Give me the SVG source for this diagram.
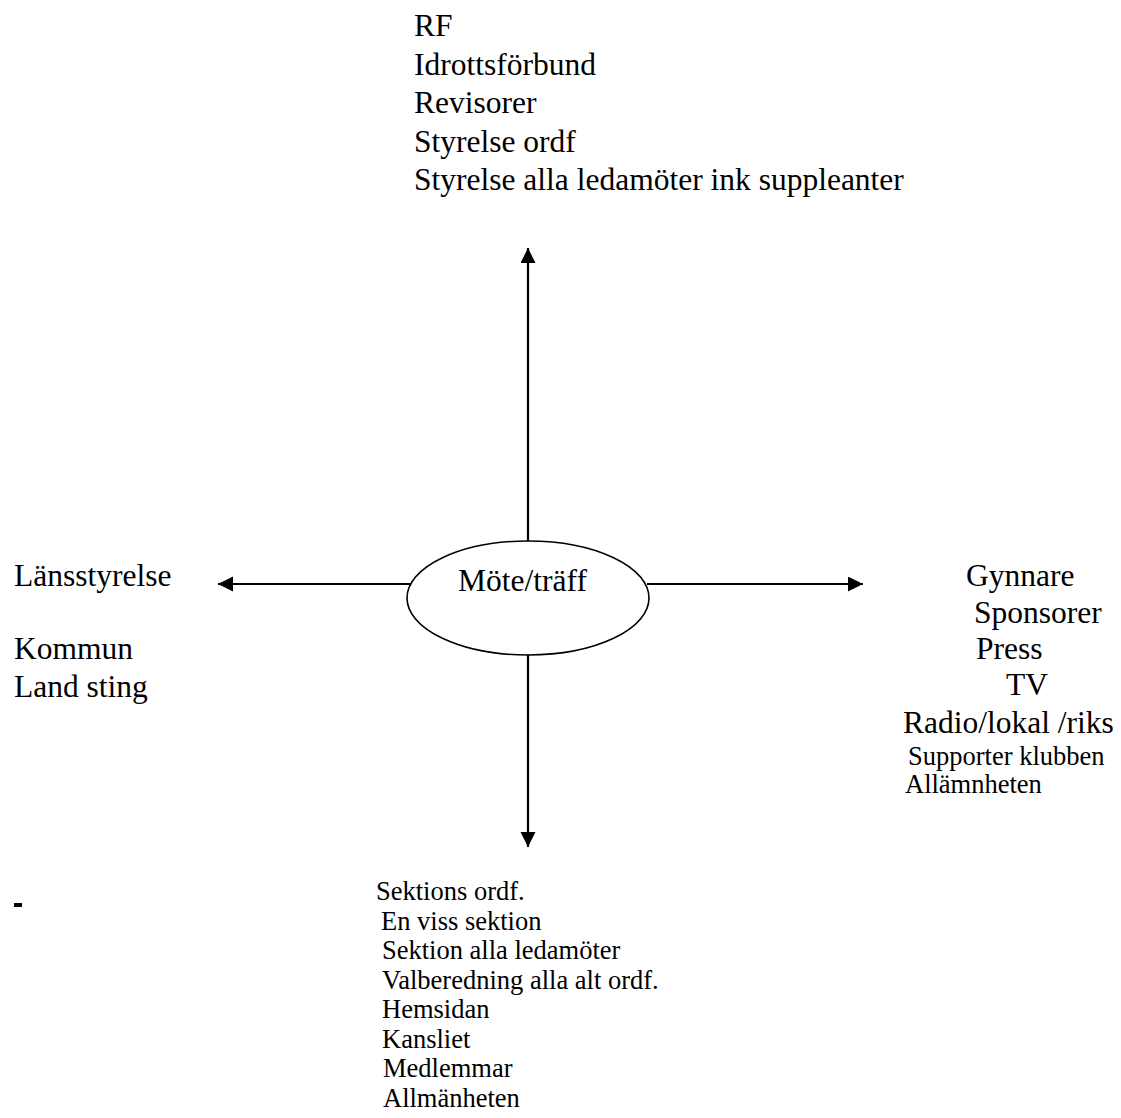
<svg xmlns="http://www.w3.org/2000/svg" width="1121" height="1118" viewBox="0 0 1121 1118">
  <style>
    text { font-family: "Liberation Serif", "Times New Roman", serif; fill: #000; }
    .big { font-size: 31.5px; }
    .small { font-size: 26.5px; }
    .conn { stroke: #000; stroke-width: 2.2; fill: none; marker-end: url(#arrow); }
  </style>
  <defs>
    <marker id="arrow" markerUnits="userSpaceOnUse" markerWidth="16" markerHeight="16" refX="15" refY="7.5" orient="auto">
      <path d="M0,0 L15,7.5 L0,15 Z" fill="#000"/>
    </marker>
  </defs>
  <rect width="1121" height="1118" fill="#fff"/>

  <g id="connectors">
    <line class="conn" x1="528" y1="541" x2="528" y2="248"/>
    <line class="conn" x1="410" y1="584" x2="218" y2="584"/>
    <line class="conn" x1="647" y1="584" x2="863" y2="584"/>
    <line class="conn" x1="528" y1="655" x2="528" y2="847"/>
  </g>

  <g id="center">
    <ellipse cx="528" cy="598" rx="121" ry="57" fill="#fff" stroke="#000" stroke-width="1.6"/>
    <text class="big" x="458" y="591">Möte/träff</text>
  </g>

  <g id="top">
    <text class="big" x="414" y="36">RF</text>
    <text class="big" x="414" y="74.5">Idrottsförbund</text>
    <text class="big" x="414" y="113">Revisorer</text>
    <text class="big" x="414" y="151.5">Styrelse ordf</text>
    <text class="big" x="414" y="190">Styrelse alla ledamöter ink suppleanter</text>
  </g>

  <g id="left">
    <text class="big" x="14" y="586">Länsstyrelse</text>
    <text class="big" x="14" y="659">Kommun</text>
    <text class="big" x="14" y="697">Land sting</text>
  </g>

  <g id="right">
    <text class="big" x="966" y="586">Gynnare</text>
    <text class="big" x="974" y="623">Sponsorer</text>
    <text class="big" x="976" y="659">Press</text>
    <text class="big" x="1006" y="695">TV</text>
    <text class="big" x="903" y="733">Radio/lokal /riks</text>
    <text class="small" x="908" y="765">Supporter klubben</text>
    <text class="small" x="905" y="793">Allämnheten</text>
  </g>

  <g id="bottom">
    <text class="small" x="376" y="900">Sektions ordf.</text>
    <text class="small" x="381" y="929.5">En viss sektion</text>
    <text class="small" x="382" y="959">Sektion alla ledamöter</text>
    <text class="small" x="382" y="988.5">Valberedning alla alt ordf.</text>
    <text class="small" x="382" y="1018">Hemsidan</text>
    <text class="small" x="382" y="1047.5">Kansliet</text>
    <text class="small" x="383" y="1077">Medlemmar</text>
    <text class="small" x="383" y="1106.5">Allmänheten</text>
  </g>

  <g id="dash">
    <rect x="14" y="903" width="8" height="4" fill="#000"/>
  </g>
</svg>
